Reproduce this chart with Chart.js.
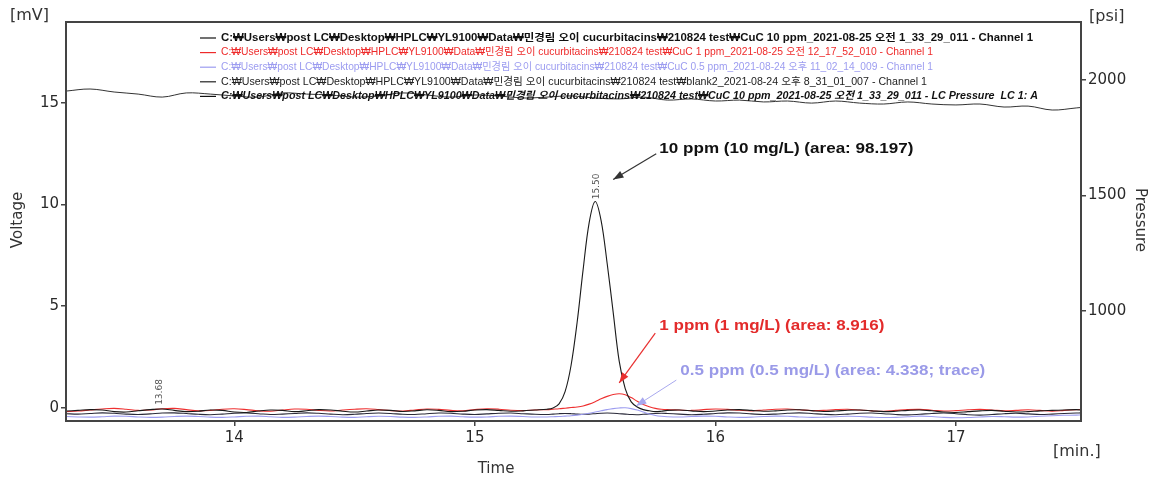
<!DOCTYPE html>
<html lang="ko">
<head>
<meta charset="UTF-8">
<title>CuC chromatogram</title>
<script src="https://cdn.jsdelivr.net/npm/chart.js"></script>
<style>
  html, body { margin: 0; padding: 0; background: #fff; }
  #chart { display: block; }
</style>
</head>
<body>
<canvas id="chart" width="1158" height="482"></canvas>
<script>
// retention time grid (min) for the voltage traces
const timeMin = [
  13.30,13.35,13.40,13.45,13.50,13.55,13.60,13.65,13.70,13.75,13.80,13.85,13.90,13.95,14.00,14.05,14.10,14.15,14.20,14.25,
  14.30,14.35,14.40,14.45,14.50,14.55,14.60,14.65,14.70,14.75,14.80,14.85,14.90,14.95,15.00,15.05,15.10,15.15,15.20,15.25,
  15.30,15.325,15.35,15.375,15.40,15.425,15.45,15.475,15.50,15.525,15.55,15.575,15.60,15.625,15.65,15.675,15.70,15.725,15.75,15.775,
  15.80,15.85,15.90,15.95,16.00,16.05,16.10,16.15,16.20,16.25,16.30,16.35,16.40,16.45,16.50,16.55,16.60,16.65,16.70,16.75,
  16.80,16.85,16.90,16.95,17.00,17.05,17.10,17.15,17.20,17.25,17.30,17.35,17.40,17.45,17.50,17.52
];

// mV
const cuc10ppm = [
  -0.15,-0.12,-0.08,-0.10,-0.18,-0.20,-0.14,-0.08,-0.05,-0.12,-0.18,-0.16,-0.10,-0.12,-0.20,-0.22,-0.15,-0.10,-0.12,-0.18,
  -0.14,-0.08,-0.10,-0.16,-0.20,-0.15,-0.10,-0.12,-0.17,-0.14,-0.09,-0.12,-0.18,-0.16,-0.10,-0.08,-0.12,-0.16,-0.14,-0.10,
  -0.06,0.00,0.20,0.80,2.10,4.20,6.80,9.10,10.15,9.20,7.10,4.70,2.30,0.95,0.30,0.05,-0.08,-0.14,-0.18,-0.16,
  -0.12,-0.10,-0.14,-0.18,-0.15,-0.10,-0.08,-0.12,-0.16,-0.14,-0.10,-0.09,-0.13,-0.17,-0.15,-0.11,-0.10,-0.14,-0.18,-0.16,
  -0.12,-0.10,-0.14,-0.20,-0.22,-0.18,-0.14,-0.12,-0.16,-0.20,-0.18,-0.14,-0.12,-0.10,-0.08,-0.10
];
const cuc1ppm = [
  -0.18,-0.15,-0.10,-0.05,-0.02,-0.06,-0.12,-0.10,-0.04,-0.02,-0.08,-0.14,-0.12,-0.06,-0.04,-0.08,-0.14,-0.16,-0.10,-0.05,
  -0.06,-0.12,-0.15,-0.10,-0.06,-0.04,-0.08,-0.13,-0.15,-0.10,-0.05,-0.07,-0.12,-0.14,-0.08,-0.04,-0.06,-0.11,-0.13,-0.10,
  -0.08,-0.06,-0.04,-0.01,0.02,0.05,0.10,0.19,0.31,0.45,0.57,0.66,0.70,0.65,0.51,0.33,0.17,0.06,-0.02,-0.06,
  -0.08,-0.10,-0.12,-0.08,-0.05,-0.07,-0.11,-0.14,-0.10,-0.06,-0.05,-0.09,-0.13,-0.12,-0.08,-0.06,-0.10,-0.14,-0.16,-0.12,
  -0.08,-0.07,-0.11,-0.15,-0.13,-0.09,-0.07,-0.10,-0.14,-0.12,-0.09,-0.12,-0.16,-0.12,-0.08,-0.07
];
const cuc05ppm = [
  -0.42,-0.44,-0.45,-0.43,-0.40,-0.41,-0.44,-0.46,-0.45,-0.42,-0.40,-0.42,-0.45,-0.46,-0.44,-0.41,-0.40,-0.43,-0.46,-0.45,
  -0.42,-0.40,-0.42,-0.45,-0.46,-0.43,-0.41,-0.42,-0.45,-0.46,-0.44,-0.41,-0.40,-0.43,-0.45,-0.44,-0.41,-0.40,-0.42,-0.44,
  -0.44,-0.43,-0.42,-0.40,-0.38,-0.35,-0.31,-0.26,-0.20,-0.14,-0.08,-0.03,0.00,0.01,-0.03,-0.10,-0.20,-0.30,-0.37,-0.41,
  -0.43,-0.44,-0.42,-0.40,-0.41,-0.44,-0.46,-0.45,-0.42,-0.40,-0.41,-0.44,-0.46,-0.45,-0.43,-0.41,-0.42,-0.45,-0.47,-0.46,
  -0.43,-0.40,-0.42,-0.46,-0.48,-0.47,-0.44,-0.42,-0.43,-0.45,-0.44,-0.41,-0.38,-0.36,-0.35,-0.34
];
const blank2 = [
  -0.28,-0.30,-0.27,-0.24,-0.26,-0.30,-0.32,-0.29,-0.25,-0.24,-0.27,-0.31,-0.33,-0.30,-0.26,-0.25,-0.28,-0.32,-0.30,-0.27,
  -0.24,-0.26,-0.30,-0.33,-0.31,-0.27,-0.25,-0.27,-0.31,-0.32,-0.28,-0.25,-0.26,-0.30,-0.32,-0.29,-0.26,-0.25,-0.28,-0.31,
  -0.32,-0.30,-0.28,-0.27,-0.28,-0.30,-0.31,-0.30,-0.28,-0.26,-0.25,-0.26,-0.28,-0.30,-0.32,-0.33,-0.31,-0.29,-0.27,-0.26,
  -0.27,-0.30,-0.33,-0.31,-0.27,-0.24,-0.25,-0.29,-0.32,-0.30,-0.26,-0.24,-0.27,-0.31,-0.33,-0.30,-0.26,-0.25,-0.28,-0.32,
  -0.34,-0.31,-0.27,-0.25,-0.28,-0.33,-0.35,-0.32,-0.28,-0.26,-0.29,-0.32,-0.30,-0.27,-0.25,-0.24
];

// LC pressure (psi)
const pressureTime = [
  13.3,13.4,13.5,13.6,13.7,13.8,13.9,14.0,14.1,14.2,14.3,14.4,14.5,14.6,14.7,14.8,14.9,15.0,15.1,15.2,15.3,15.4,
  15.5,15.6,15.7,15.8,15.9,16.0,16.1,16.2,16.3,16.4,16.5,16.6,16.7,16.8,16.9,17.0,17.1,17.2,17.3,17.4,17.5,17.52
];
const pressurePsi = [
  1952,1961,1948,1939,1926,1944,1939,1931,1926,1944,1939,1935,1926,1931,1944,1935,1926,1935,1931,1922,1926,1931,
  1922,1918,1926,1913,1918,1909,1913,1905,1909,1900,1909,1900,1896,1905,1896,1892,1896,1883,1887,1870,1879,1881
];

const xTicks = [14, 15, 16, 17];
const mvTicks = [0, 5, 10, 15];
const psiTicks = [1000, 1500, 2000];

const legendRows = [
  { text: 'C:₩Users₩post LC₩Desktop₩HPLC₩YL9100₩Data₩민경림 오이 cucurbitacins₩210824 test₩CuC 10 ppm_2021-08-25 오전 1_33_29_011 - Channel 1', color: '#111', style: 'bold', w: 812 },
  { text: 'C:₩Users₩post LC₩Desktop₩HPLC₩YL9100₩Data₩민경림 오이 cucurbitacins₩210824 test₩CuC 1 ppm_2021-08-25 오전 12_17_52_010 - Channel 1', color: '#ee2a2a', style: '', w: 712 },
  { text: 'C:₩Users₩post LC₩Desktop₩HPLC₩YL9100₩Data₩민경림 오이 cucurbitacins₩210824 test₩CuC 0.5 ppm_2021-08-24 오후 11_02_14_009 - Channel 1', color: '#9c9cf0', style: '', w: 712 },
  { text: 'C:₩Users₩post LC₩Desktop₩HPLC₩YL9100₩Data₩민경림 오이 cucurbitacins₩210824 test₩blank2_2021-08-24 오후 8_31_01_007 - Channel 1', color: '#222', style: '', w: 706 },
  { text: 'C:₩Users₩post LC₩Desktop₩HPLC₩YL9100₩Data₩민경림 오이 cucurbitacins₩210824 test₩CuC 10 ppm_2021-08-25 오전 1_33_29_011 - LC Pressure  LC 1: A', color: '#111', style: 'italic bold', w: 817 }
];

const pts = (xs, ys) => xs.map((x, i) => ({ x: x, y: ys[i] }));

const FONT = "'DejaVu Sans', 'Noto Sans CJK KR', sans-serif";
const LEG_FONT = "'Liberation Sans', 'Noto Sans CJK KR', sans-serif";

const decorPlugin = {
  id: 'decor',
  afterDatasetsDraw(chart) {
    const ctx = chart.ctx;
    const a = chart.chartArea;
    const xs = chart.scales.x, ys = chart.scales.y;
    ctx.save();

    // frame top / right
    ctx.strokeStyle = '#444';
    ctx.lineWidth = 2;
    ctx.strokeRect(a.left, a.top, a.right - a.left, a.bottom - a.top);

    // legend
    legendRows.forEach((r, i) => {
      const y = 38 + i * 14.6;
      ctx.strokeStyle = r.color;
      ctx.lineWidth = 1.2;
      ctx.beginPath();
      ctx.moveTo(200, y); ctx.lineTo(216, y);
      ctx.stroke();
      ctx.font = (r.style ? r.style + ' ' : '') + '10.5px ' + LEG_FONT;
      ctx.fillStyle = r.color;
      ctx.textBaseline = 'middle';
      ctx.textAlign = 'left';
      const m = ctx.measureText(r.text).width;
      ctx.save();
      ctx.translate(221, y);
      ctx.scale(r.w / m, 1);
      ctx.fillText(r.text, 0, 0);
      ctx.restore();
    });

    // peak labels
    const vlabel = (t, v, txt, dy) => {
      ctx.save();
      ctx.translate(xs.getPixelForValue(t) + 2, ys.getPixelForValue(v) - dy);
      ctx.rotate(-Math.PI / 2);
      ctx.font = '9px ' + FONT;
      ctx.fillStyle = '#555';
      ctx.textAlign = 'center';
      ctx.textBaseline = 'middle';
      ctx.fillText(txt, 0, 0);
      ctx.restore();
    };
    vlabel(15.50, 10.15, '15.50', 15);
    vlabel(13.68, 0, '13.68', 16);

    // annotations with arrows
    const arrow = (t0, v0, t1, v1, color, w) => {
      const x0 = xs.getPixelForValue(t0), y0 = ys.getPixelForValue(v0);
      const x1 = xs.getPixelForValue(t1), y1 = ys.getPixelForValue(v1);
      ctx.strokeStyle = color; ctx.fillStyle = color; ctx.lineWidth = w;
      ctx.beginPath(); ctx.moveTo(x0, y0); ctx.lineTo(x1, y1); ctx.stroke();
      const ang = Math.atan2(y1 - y0, x1 - x0);
      ctx.beginPath();
      ctx.moveTo(x1, y1);
      ctx.lineTo(x1 - 11 * Math.cos(ang - 0.35), y1 - 11 * Math.sin(ang - 0.35));
      ctx.lineTo(x1 - 11 * Math.cos(ang + 0.35), y1 - 11 * Math.sin(ang + 0.35));
      ctx.closePath(); ctx.fill();
    };
    const label = (t, v, txt, color, w) => {
      ctx.font = 'bold 15px ' + "'Liberation Sans', Arial, sans-serif";
      ctx.fillStyle = color;
      ctx.textAlign = 'left';
      ctx.textBaseline = 'middle';
      const m = ctx.measureText(txt).width;
      ctx.save();
      ctx.translate(xs.getPixelForValue(t), ys.getPixelForValue(v));
      ctx.scale(w / m, 1);
      ctx.fillText(txt, 0, 0);
      ctx.restore();
    };
    arrow(15.754, 12.5, 15.575, 11.23, '#333', 1.2);
    label(15.767, 12.75, '10 ppm (10 mg/L) (area: 98.197)', '#111', 254);
    arrow(15.75, 3.68, 15.60, 1.23, '#e83030', 1.2);
    label(15.767, 4.02, '1 ppm (1 mg/L) (area: 8.916)', '#e32b2b', 225);
    arrow(15.8375, 1.37, 15.67, 0.10, '#a8a8ee', 1.0);
    label(15.854, 1.81, '0.5 ppm (0.5 mg/L) (area: 4.338; trace)', '#9a9ae8', 305);

    // axis titles
    ctx.fillStyle = '#333';
    ctx.font = '16px ' + FONT;
    ctx.textBaseline = 'middle';
    ctx.textAlign = 'left';
    ctx.fillText('[mV]', 10, 16);
    ctx.fillText('[psi]', 1089, 17);
    ctx.fillText('[min.]', 1053, 452);
    ctx.textAlign = 'center';
    ctx.font = '15px ' + FONT;
    ctx.fillText('Time', 496, 469);
    ctx.save();
    ctx.translate(18, 220); ctx.rotate(-Math.PI / 2);
    ctx.fillText('Voltage', 0, 0);
    ctx.restore();
    ctx.save();
    ctx.translate(1140, 220); ctx.rotate(Math.PI / 2);
    ctx.fillText('Pressure', 0, 0);
    ctx.restore();

    ctx.restore();
  }
};

const axisStyle = {
  grid: { display: true, drawOnChartArea: false, drawTicks: true, tickLength: 5, color: '#444', lineWidth: 1.5 },
  border: { display: true, color: '#444', width: 2 },
  ticks: { color: '#2a2a2a', font: { family: FONT, size: 15 }, padding: 2, callback: v => String(v) }
};

new Chart(document.getElementById('chart').getContext('2d'), {
  type: 'line',
  data: {
    datasets: [
      { label: 'CuC 10 ppm', data: pts(timeMin, cuc10ppm), borderColor: '#1a1a1a', borderWidth: 1.1, yAxisID: 'y' },
      { label: 'CuC 1 ppm', data: pts(timeMin, cuc1ppm), borderColor: '#ee3030', borderWidth: 1.1, yAxisID: 'y' },
      { label: 'CuC 0.5 ppm', data: pts(timeMin, cuc05ppm), borderColor: '#9c9cf0', borderWidth: 1.1, yAxisID: 'y' },
      { label: 'blank2', data: pts(timeMin, blank2), borderColor: '#2a2a3a', borderWidth: 1.1, yAxisID: 'y' },
      { label: 'LC Pressure', data: pts(pressureTime, pressurePsi), borderColor: '#333', borderWidth: 1, yAxisID: 'y2' }
    ]
  },
  options: {
    responsive: false,
    animation: false,
    events: [],
    layout: { padding: { top: 22, left: 0, right: 0, bottom: 0 } },
    elements: { point: { radius: 0 }, line: { tension: 0.35, fill: false } },
    plugins: { legend: { display: false }, tooltip: { enabled: false } },
    scales: {
      x: {
        type: 'linear', min: 13.3, max: 17.52,
        ...axisStyle,
        ticks: { ...axisStyle.ticks, padding: 3 },
        afterBuildTicks: s => { s.ticks = xTicks.map(v => ({ value: v })); },
        afterFit: s => { s.height = 61; }
      },
      y: {
        type: 'linear', position: 'left', min: -0.64, max: 18.97,
        ...axisStyle,
        afterBuildTicks: s => { s.ticks = mvTicks.map(v => ({ value: v })); },
        afterFit: s => { s.width = 66; }
      },
      y2: {
        type: 'linear', position: 'right', min: 524, max: 2251,
        ...axisStyle,
        afterBuildTicks: s => { s.ticks = psiTicks.map(v => ({ value: v })); },
        afterFit: s => { s.width = 77; }
      }
    }
  },
  plugins: [decorPlugin]
});
</script>
</body>
</html>
